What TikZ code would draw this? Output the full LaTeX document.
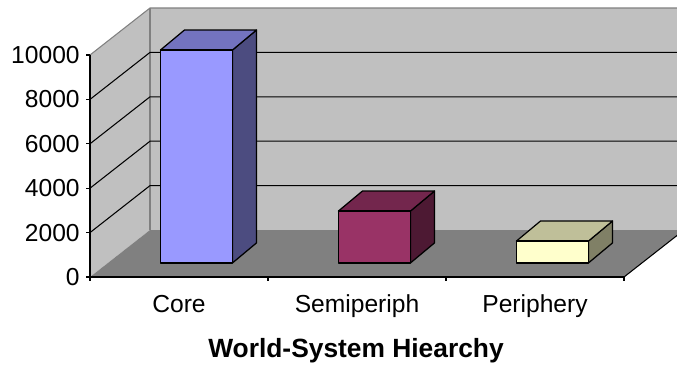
\documentclass[tikz,border=0pt]{standalone}
\usepackage{fontspec}
\setmainfont{Liberation Sans}
\usetikzlibrary{calc}
\definecolor{wallGrey}{HTML}{C0C0C0}
\definecolor{floorGrey}{HTML}{808080}
\definecolor{coreFront}{HTML}{9999FF}
\definecolor{coreTop}{HTML}{7373BF}
\definecolor{coreSide}{HTML}{4C4C80}
\definecolor{semiFront}{HTML}{993366}
\definecolor{semiTop}{HTML}{73264D}
\definecolor{semiSide}{HTML}{4D1933}
\definecolor{periFront}{HTML}{FFFFCC}
\definecolor{periTop}{HTML}{BFBF99}
\definecolor{periSide}{HTML}{808066}

\begin{document}
\begin{tikzpicture}[
  gridline/.style={line width=0.6pt, black},
  walledge/.style={line width=0.6pt, floorGrey},
  face/.style={draw=black, line width=0.7pt, line join=round},
  ticklab/.style={anchor=east, inner sep=0pt, font=\fontsize{14}{16}\selectfont},
  catlab/.style={anchor=base, font=\fontsize{14}{16}\selectfont}]
  \useasboundingbox (0,0) rectangle (13.54,7.38);
  \clip (0,0) rectangle (13.54,7.38);
  % walls and floor
  \fill[wallGrey] (3.0,2.78) rectangle (13.8,7.22);
  \fill[wallGrey] (1.8,1.84) -- (1.8,6.28) -- (3.0,7.22) -- (3.0,2.78) -- cycle;
  \fill[floorGrey] (1.8,1.84) -- (12.48,1.84) -- (13.68,2.78) -- (3.0,2.78) -- cycle;
  \draw[walledge] (1.8,6.28) -- (3.0,7.22) -- (13.8,7.22);
  \draw[walledge] (3.0,2.78) -- (3.0,7.22);
  % gridlines, 2000 to 8000
  \foreach \y in {2.728, 3.616, 4.504, 5.392}
    \draw[gridline] (1.8,\y) -- (3.0,\y+0.94) -- (13.8,\y+0.94);
  \draw[gridline] (12.48,1.84) -- (13.68,2.78);
  % bars
  \foreach \x/\top/\c in {3.21/6.38/core, 6.77/3.16/semi, 10.33/2.56/peri} {
    \filldraw[face, fill=\c Side] (\x+1.44,2.122) -- ++(0.48,0.40)
      -- (\x+1.92,\top+0.40) -- (\x+1.44,\top) -- cycle;
    \filldraw[face, fill=\c Top] (\x,\top) -- ++(0.48,0.40)
      -- ++(1.44,0) -- (\x+1.44,\top) -- cycle;
    \filldraw[face, fill=\c Front] (\x,2.122) rectangle (\x+1.44,\top);
  }
  % axes
  \draw[line width=0.7pt] (1.8,6.28) -- (1.8,1.76);
  \draw[line width=0.7pt] (1.8,1.84) -- (12.48,1.84);
  \foreach \x in {5.36, 8.92, 12.48}
    \draw[line width=0.7pt] (\x,1.84) -- (\x,1.76);
  \foreach \y/\v in {1.84/0, 2.728/2000, 3.616/4000, 4.504/6000, 5.392/8000, 6.28/10000} {
    \draw[line width=0.7pt] (1.8,\y) -- (1.72,\y);
    \node[ticklab] (t\v) at (1.6,\y) {\v};
  }
  % labels
  \node[catlab] (core) at (3.58,1.14) {Core};
  \node[catlab] (semi) at (7.14,1.14) {Semiperiph};
  \node[catlab] (peri) at (10.70,1.14) {Periphery};
  \node[anchor=base, font=\fontsize{15}{17}\selectfont\bfseries] (title)
    at (7.12,0.24) {World-System Hiearchy};
\end{tikzpicture}
\end{document}
